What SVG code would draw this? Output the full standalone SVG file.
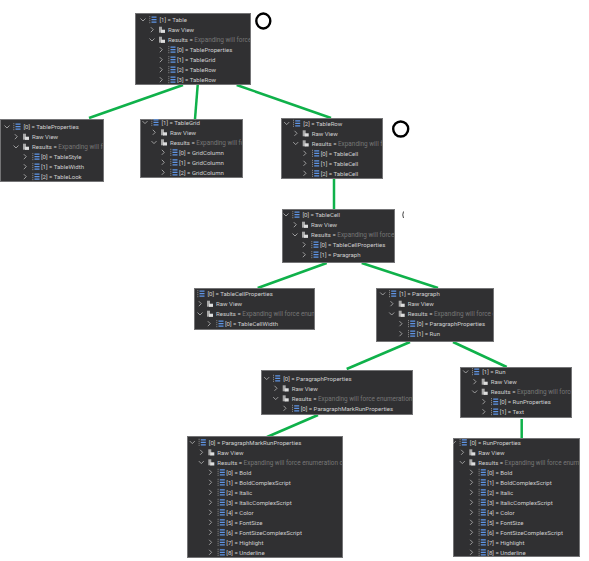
<svg xmlns="http://www.w3.org/2000/svg" width="589" height="561" viewBox="0 0 589 561">
<style>
.box{fill:#303032;stroke:#747476;stroke-width:1}
text{font-family:Roboto,"Liberation Sans",sans-serif;font-size:6.05px;fill:#cfcfcf}
.m{fill:#767676;font-size:6.4px}
.c{fill:none;stroke:#b8b8b8;stroke-width:.8}
.ln{stroke:#0fb14a;stroke-width:2.5;fill:none}
.ring{fill:none;stroke:#000;stroke-width:2.4}
</style>
<defs>
<path id="r" class="c" d="M-1.200-2.500 1.300 0-1.200 2.500"/>
<path id="d" class="c" d="M-2.500-1.200 0 1.300 2.500-1.200"/>
<g id="l"><path d="M-3.200-3.500v7" stroke="#8f8f8f" stroke-width="1" stroke-dasharray="1 1"/><path d="M-1.500-2.500H3.500M-1.500 0H3.500M-1.500 2.500H3.500" stroke="#5f95e6" stroke-width="1.200"/></g>
<g id="v"><path d="M-3-3H0V3H-3Z" fill="#a8a8a8"/><path d="M-1 0H3V3.200H-1Z" fill="#dedede"/></g>
</defs>
<rect width="589" height="561" fill="#fff"/>
<g id="connectors">
<path class="ln" d="M183 85 89 118"/>
<path class="ln" d="M197.700 85 195 119"/>
<path class="ln" d="M236.700 85 331 118"/>
<path class="ln" d="M334 179V209"/>
<path class="ln" d="M326.700 263 257.700 288"/>
<path class="ln" d="M361.700 263 438 288"/>
<path class="ln" d="M410 342 346.700 369"/>
<path class="ln" d="M453 342 506.700 367"/>
<path class="ln" d="M318 415 267 437"/>
<path class="ln" d="M521.700 419V438"/>
</g>
<g id="node-table"><svg x="135" y="13" width="116" height="72"><rect class="box" x=".5" y=".5" width="115" height="71"/><g transform="translate(8,6.700)">
<use href="#d"/><use href="#l" x="10"/><text x="16.500" y="2.300">[1] = Table</text>
<use href="#r" x="9" y="10"/><use href="#v" x="19" y="10"/><text x="25" y="12.300">Raw View</text>
<use href="#d" x="9" y="20"/><use href="#v" x="19" y="20"/><text x="25" y="22.300">Results = <tspan class="m">Expanding will force e</tspan></text>
<use href="#r" x="18" y="30"/><use href="#l" x="29" y="30"/><text x="34" y="32.300">[0] = TableProperties</text>
<use href="#r" x="18" y="40"/><use href="#l" x="29" y="40"/><text x="34" y="42.300">[1] = TableGrid</text>
<use href="#r" x="18" y="50"/><use href="#l" x="29" y="50"/><text x="34" y="52.300">[2] = TableRow</text>
<use href="#r" x="18" y="60"/><use href="#l" x="29" y="60"/><text x="34" y="62.300">[3] = TableRow</text>
</g></svg></g>
<g id="node-tableproperties"><svg x="0" y="119" width="104" height="63"><rect class="box" x=".5" y=".5" width="103" height="62"/><g transform="translate(7,7.700)">
<use href="#d"/><use href="#l" x="10"/><text x="16.500" y="2.300">[0] = TableProperties</text>
<use href="#r" x="9" y="10"/><use href="#v" x="19" y="10"/><text x="25" y="12.300">Raw View</text>
<use href="#d" x="9" y="20"/><use href="#v" x="19" y="20"/><text x="25" y="22.300">Results = <tspan class="m">Expanding will for</tspan></text>
<use href="#r" x="18" y="30"/><use href="#l" x="29" y="30"/><text x="34" y="32.300">[0] = TableStyle</text>
<use href="#r" x="18" y="40"/><use href="#l" x="29" y="40"/><text x="34" y="42.300">[1] = TableWidth</text>
<use href="#r" x="18" y="50"/><use href="#l" x="29" y="50"/><text x="34" y="52.300">[2] = TableLook</text>
</g></svg></g>
<g id="node-tablegrid"><svg x="140" y="119" width="103" height="59"><rect class="box" x=".5" y=".5" width="102" height="58"/><g transform="translate(5,3.300)">
<use href="#d"/><use href="#l" x="10"/><text x="16.500" y="2.300">[1] = TableGrid</text>
<use href="#r" x="9" y="10"/><use href="#v" x="19" y="10"/><text x="25" y="12.300">Raw View</text>
<use href="#d" x="9" y="20"/><use href="#v" x="19" y="20"/><text x="25" y="22.300">Results = <tspan class="m">Expanding will for</tspan></text>
<use href="#r" x="18" y="30"/><use href="#l" x="29" y="30"/><text x="34" y="32.300">[0] = GridColumn</text>
<use href="#r" x="18" y="40"/><use href="#l" x="29" y="40"/><text x="34" y="42.300">[1] = GridColumn</text>
<use href="#r" x="18" y="50"/><use href="#l" x="29" y="50"/><text x="34" y="52.300">[2] = GridColumn</text>
</g></svg></g>
<g id="node-tablerow"><svg x="281" y="118" width="102" height="61"><rect class="box" x=".5" y=".5" width="101" height="60"/><g transform="translate(5.700,5.300)">
<use href="#d"/><use href="#l" x="10"/><text x="16.500" y="2.300">[2] = TableRow</text>
<use href="#r" x="9" y="10"/><use href="#v" x="19" y="10"/><text x="25" y="12.300">Raw View</text>
<use href="#d" x="9" y="20"/><use href="#v" x="19" y="20"/><text x="25" y="22.300">Results = <tspan class="m">Expanding will fo</tspan></text>
<use href="#r" x="18" y="30"/><use href="#l" x="29" y="30"/><text x="34" y="32.300">[0] = TableCell</text>
<use href="#r" x="18" y="40"/><use href="#l" x="29" y="40"/><text x="34" y="42.300">[1] = TableCell</text>
<use href="#r" x="18" y="50"/><use href="#l" x="29" y="50"/><text x="34" y="52.300">[2] = TableCell</text>
</g></svg></g>
<g id="node-tablecell"><svg x="282" y="209" width="113" height="54"><rect class="box" x=".5" y=".5" width="112" height="53"/><g transform="translate(4,5.700)">
<use href="#d"/><use href="#l" x="10"/><text x="16.500" y="2.300">[0] = TableCell</text>
<use href="#r" x="9" y="10"/><use href="#v" x="19" y="10"/><text x="25" y="12.300">Raw View</text>
<use href="#d" x="9" y="20"/><use href="#v" x="19" y="20"/><text x="25" y="22.300">Results = <tspan class="m">Expanding will force e</tspan></text>
<use href="#r" x="18" y="30"/><use href="#l" x="29" y="30"/><text x="34" y="32.300">[0] = TableCellProperties</text>
<use href="#r" x="18" y="40"/><use href="#l" x="29" y="40"/><text x="34" y="42.300">[1] = Paragraph</text>
</g></svg></g>
<g id="node-tablecellproperties"><svg x="194" y="288" width="121" height="42"><rect class="box" x=".5" y=".5" width="120" height="41"/><g transform="translate(-3,5.700)">
<use href="#l" x="10"/><text x="16.500" y="2.300">[0] = TableCellProperties</text>
<use href="#r" x="9" y="10"/><use href="#v" x="19" y="10"/><text x="25" y="12.300">Raw View</text>
<use href="#d" x="9" y="20"/><use href="#v" x="19" y="20"/><text x="25" y="22.300">Results = <tspan class="m">Expanding will force enume</tspan></text>
<use href="#r" x="18" y="30"/><use href="#l" x="29" y="30"/><text x="34" y="32.300">[0] = TableCellWidth</text>
</g></svg></g>
<g id="node-paragraph"><svg x="376" y="288" width="118" height="54"><rect class="box" x=".5" y=".5" width="117" height="53"/><g transform="translate(6.700,5.700)">
<use href="#d"/><use href="#l" x="10"/><text x="16.500" y="2.300">[1] = Paragraph</text>
<use href="#r" x="9" y="10"/><use href="#v" x="19" y="10"/><text x="25" y="12.300">Raw View</text>
<use href="#d" x="9" y="20"/><use href="#v" x="19" y="20"/><text x="25" y="22.300">Results = <tspan class="m">Expanding will force en</tspan></text>
<use href="#r" x="18" y="30"/><use href="#l" x="29" y="30"/><text x="34" y="32.300">[0] = ParagraphProperties</text>
<use href="#r" x="18" y="40"/><use href="#l" x="29" y="40"/><text x="34" y="42.300">[1] = Run</text>
</g></svg></g>
<g id="node-paragraphproperties"><svg x="261" y="370" width="152" height="45"><rect class="box" x=".5" y=".5" width="151" height="44"/><g transform="translate(5.700,8.300)">
<use href="#d"/><use href="#l" x="10"/><text x="16.500" y="2.300">[0] = ParagraphProperties</text>
<use href="#r" x="9" y="10"/><use href="#v" x="19" y="10"/><text x="25" y="12.300">Raw View</text>
<use href="#d" x="9" y="20"/><use href="#v" x="19" y="20"/><text x="25" y="22.300">Results = <tspan class="m">Expanding will force enumeration of</tspan></text>
<use href="#r" x="18" y="30"/><use href="#l" x="29" y="30"/><text x="34" y="32.300">[0] = ParagraphMarkRunProperties</text>
</g></svg></g>
<g id="node-run"><svg x="460" y="367" width="112" height="51"><rect class="box" x=".5" y=".5" width="111" height="50"/><g transform="translate(5.700,4.700)">
<use href="#d"/><use href="#l" x="10"/><text x="16.500" y="2.300">[1] = Run</text>
<use href="#r" x="9" y="10"/><use href="#v" x="19" y="10"/><text x="25" y="12.300">Raw View</text>
<use href="#d" x="9" y="20"/><use href="#v" x="19" y="20"/><text x="25" y="22.300">Results = <tspan class="m">Expanding will force e</tspan></text>
<use href="#r" x="18" y="30"/><use href="#l" x="29" y="30"/><text x="34" y="32.300">[0] = RunProperties</text>
<use href="#r" x="18" y="40"/><use href="#l" x="29" y="40"/><text x="34" y="42.300">[1] = Text</text>
</g></svg></g>
<g id="node-paragraphmarkrunproperties"><svg x="187" y="436" width="156" height="122"><rect class="box" x=".5" y=".5" width="155" height="121"/><g transform="translate(5.300,6.300)">
<use href="#d"/><use href="#l" x="10"/><text x="16.500" y="2.300">[0] = ParagraphMarkRunProperties</text>
<use href="#r" x="9" y="10"/><use href="#v" x="19" y="10"/><text x="25" y="12.300">Raw View</text>
<use href="#d" x="9" y="20"/><use href="#v" x="19" y="20"/><text x="25" y="22.300">Results = <tspan class="m">Expanding will force enumeration of t</tspan></text>
<use href="#r" x="18" y="30"/><use href="#l" x="29" y="30"/><text x="34" y="32.300">[0] = Bold</text>
<use href="#r" x="18" y="40"/><use href="#l" x="29" y="40"/><text x="34" y="42.300">[1] = BoldComplexScript</text>
<use href="#r" x="18" y="50"/><use href="#l" x="29" y="50"/><text x="34" y="52.300">[2] = Italic</text>
<use href="#r" x="18" y="60"/><use href="#l" x="29" y="60"/><text x="34" y="62.300">[3] = ItalicComplexScript</text>
<use href="#r" x="18" y="70"/><use href="#l" x="29" y="70"/><text x="34" y="72.300">[4] = Color</text>
<use href="#r" x="18" y="80"/><use href="#l" x="29" y="80"/><text x="34" y="82.300">[5] = FontSize</text>
<use href="#r" x="18" y="90"/><use href="#l" x="29" y="90"/><text x="34" y="92.300">[6] = FontSizeComplexScript</text>
<use href="#r" x="18" y="100"/><use href="#l" x="29" y="100"/><text x="34" y="102.300">[7] = Highlight</text>
<use href="#r" x="18" y="110"/><use href="#l" x="29" y="110"/><text x="34" y="112.300">[8] = Underline</text>
</g></svg></g>
<g id="node-runproperties"><svg x="453" y="438" width="127" height="119"><rect class="box" x=".5" y=".5" width="126" height="118"/><g transform="translate(.300,4.300)">
<use href="#d"/><use href="#l" x="10"/><text x="16.500" y="2.300">[0] = RunProperties</text>
<use href="#r" x="9" y="10"/><use href="#v" x="19" y="10"/><text x="25" y="12.300">Raw View</text>
<use href="#d" x="9" y="20"/><use href="#v" x="19" y="20"/><text x="25" y="22.300">Results = <tspan class="m">Expanding will force enumer</tspan></text>
<use href="#r" x="18" y="30"/><use href="#l" x="29" y="30"/><text x="34" y="32.300">[0] = Bold</text>
<use href="#r" x="18" y="40"/><use href="#l" x="29" y="40"/><text x="34" y="42.300">[1] = BoldComplexScript</text>
<use href="#r" x="18" y="50"/><use href="#l" x="29" y="50"/><text x="34" y="52.300">[2] = Italic</text>
<use href="#r" x="18" y="60"/><use href="#l" x="29" y="60"/><text x="34" y="62.300">[3] = ItalicComplexScript</text>
<use href="#r" x="18" y="70"/><use href="#l" x="29" y="70"/><text x="34" y="72.300">[4] = Color</text>
<use href="#r" x="18" y="80"/><use href="#l" x="29" y="80"/><text x="34" y="82.300">[5] = FontSize</text>
<use href="#r" x="18" y="90"/><use href="#l" x="29" y="90"/><text x="34" y="92.300">[6] = FontSizeComplexScript</text>
<use href="#r" x="18" y="100"/><use href="#l" x="29" y="100"/><text x="34" y="102.300">[7] = Highlight</text>
<use href="#r" x="18" y="110"/><use href="#l" x="29" y="110"/><text x="34" y="112.300">[8] = Underline</text>
</g></svg></g>
<ellipse class="ring" cx="263.300" cy="21" rx="7" ry="7.500"/>
<circle class="ring" cx="400.700" cy="129" r="7.500"/>
<path d="M403.500 211.500Q402 215 403.500 218" fill="none" stroke="#444" stroke-width="1"/>
</svg>
